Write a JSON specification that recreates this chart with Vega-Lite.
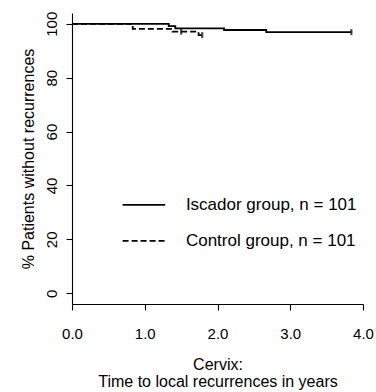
{
  "$schema": "https://vega.github.io/schema/vega-lite/v6.json",
  "width": 291,
  "height": 291,
  "autosize": {"type": "none"},
  "padding": {"left": 72, "top": 13, "right": 13, "bottom": 88},
  "background": "white",
  "config": {
    "view": {"stroke": null},
    "font": "Liberation Sans",
    "axis": {
      "grid": false,
      "domainColor": "black",
      "domainWidth": 1.1,
      "tickColor": "black",
      "tickWidth": 1.1,
      "tickSize": 6,
      "labelColor": "black",
      "labelFont": "Liberation Sans",
      "labelFontSize": 15,
      "labelFlush": false,
      "labelOverlap": false,
      "labelBound": false,
      "titleColor": "black",
      "titleFont": "Liberation Sans",
      "titleFontWeight": "normal",
      "titleFontSize": 16
    },
    "legend": {
      "orient": "none",
      "legendX": 49.4,
      "legendY": 169.4,
      "direction": "vertical",
      "symbolType": "stroke",
      "symbolSize": 1815,
      "symbolStrokeWidth": 1.8,
      "symbolStrokeColor": "black",
      "labelFont": "Liberation Sans",
      "labelFontSize": 17,
      "labelColor": "black",
      "labelLimit": 0,
      "labelOffset": 19.5,
      "rowPadding": 5,
      "padding": 0,
      "title": null
    }
  },
  "datasets": {
    "curves": [
      {"group": "Iscador group, n = 101", "t": 0, "s": 100},
      {"group": "Iscador group, n = 101", "t": 1.33, "s": 99.1},
      {"group": "Iscador group, n = 101", "t": 1.42, "s": 98.3},
      {"group": "Iscador group, n = 101", "t": 2.09, "s": 97.7},
      {"group": "Iscador group, n = 101", "t": 2.67, "s": 96.9},
      {"group": "Iscador group, n = 101", "t": 3.84, "s": 96.9},
      {"group": "Control group, n = 101", "t": 0, "s": 100},
      {"group": "Control group, n = 101", "t": 0.835, "s": 98.1},
      {"group": "Control group, n = 101", "t": 1.38, "s": 97.1},
      {"group": "Control group, n = 101", "t": 1.74, "s": 95.8},
      {"group": "Control group, n = 101", "t": 1.8, "s": 95.8}
    ],
    "censor": [
      {"group": "Control group, n = 101", "t": 1.5, "s": 97.1},
      {"group": "Control group, n = 101", "t": 1.79, "s": 95.8},
      {"group": "Iscador group, n = 101", "t": 3.84, "s": 96.9}
    ]
  },
  "layer": [
    {
      "data": {"name": "curves"},
      "mark": {"type": "line", "interpolate": "step-after", "color": "black", "strokeWidth": 1.8},
      "encoding": {
        "x": {
          "field": "t", "type": "quantitative",
          "scale": {"domain": [0, 4], "nice": false, "zero": false},
          "axis": {
            "values": [0, 0.5, 1, 1.5, 2, 2.5, 3, 3.5, 4],
            "labelExpr": "datum.value % 1 === 0 ? format(datum.value, '.1f') : ''",
            "labelPadding": 16,
            "labelBaseline": "top",
            "title": ["Cervix:", "Time to local recurrences in years"],
            "titleLineHeight": 17.3,
            "titlePadding": 15
          }
        },
        "y": {
          "field": "s", "type": "quantitative",
          "scale": {"domain": [-4, 104], "nice": false, "zero": false},
          "axis": {
            "values": [0, 20, 40, 60, 80, 100],
            "labelAngle": -90,
            "labelAlign": "center",
            "labelBaseline": "alphabetic",
            "labelPadding": 9.5,
            "title": "% Patients without recurrences",
            "titlePadding": 8
          }
        },
        "strokeDash": {
          "field": "group", "type": "nominal",
          "scale": {"domain": ["Iscador group, n = 101", "Control group, n = 101"], "range": [[1, 0], [6, 3]]},
          "legend": {}
        }
      }
    },
    {
      "data": {"name": "censor"},
      "mark": {"type": "tick", "orient": "vertical", "color": "black", "size": 6, "thickness": 2.2},
      "encoding": {
        "x": {"field": "t", "type": "quantitative"},
        "y": {"field": "s", "type": "quantitative"}
      }
    }
  ]
}
